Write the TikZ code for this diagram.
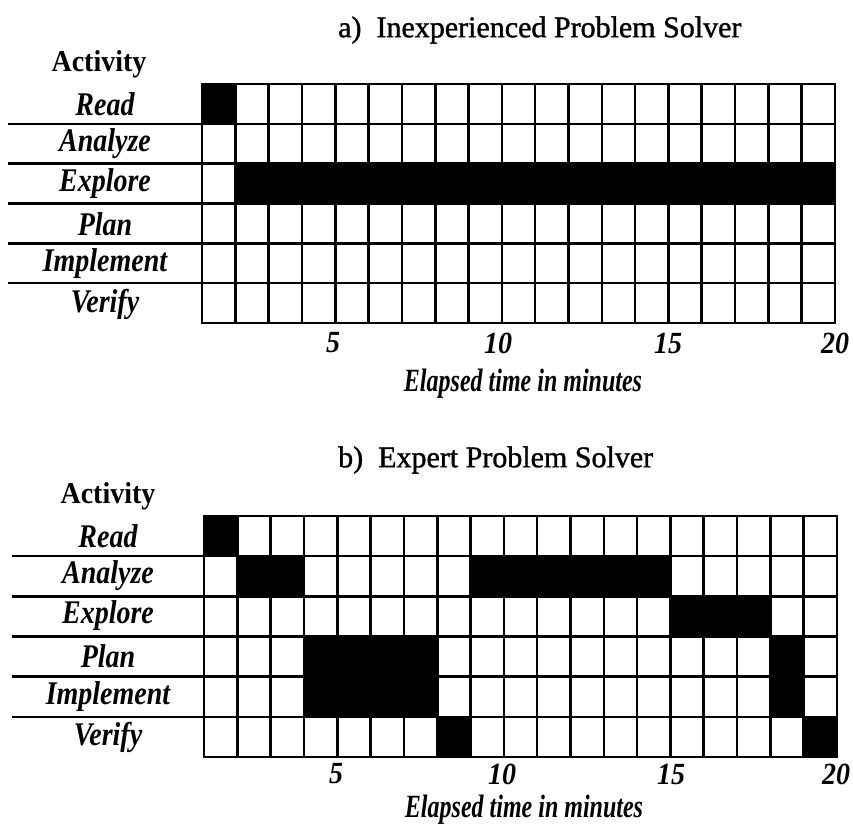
\documentclass[tikz,border=0pt]{standalone}
\usepackage{fontspec}
\setmainfont{Liberation Serif}
\newfontfamily\titlefont[FakeBold=1.2]{Liberation Serif}
\newcommand\vstretch[2]{\scalebox{1}[#1]{#2}}
\begin{document}
\begin{tikzpicture}[x=1pt,y=-1pt,
  gridline/.style={line width=2.6pt},
  sepline/.style={line width=2.6pt},
  cellfill/.style={fill=black},
  charttitle/.style={font=\fontsize{30}{32}\titlefont, anchor=west, inner sep=0pt},
  acttitle/.style={font=\fontsize{28}{30}\selectfont\bfseries, inner sep=0pt},
  actlabel/.style={font=\fontsize{28}{30}\selectfont\bfseries\itshape, inner sep=0pt},
  ticklabel/.style={font=\fontsize{28}{30}\selectfont\bfseries\itshape, inner sep=0pt},
  axislabel/.style={font=\fontsize{24}{26}\selectfont\bfseries\itshape, inner sep=0pt}]
\useasboundingbox (0,0) rectangle (853,829);
\fill[white] (0,0) rectangle (853,829);

% ---------------- chart a ----------------
\def\cw{33.316}
\node[charttitle] (atitle) at (338,30) {a)\ \ Inexperienced Problem Solver};
\node[acttitle] (aact) at (99,64) {\vstretch{1.08}{Activity}};
% filled cells
\foreach \c/\r/\n in {1/1/1, 2/3/18}
  \fill[cellfill] ({202+(\c-1)*\cw},{84+(\r-1)*39.833}) rectangle ++({\n*\cw},39.833);
% grid
\foreach \i in {1,...,18}
  \draw[gridline] ({202+\i*\cw},84) -- ({202+\i*\cw},323);
\foreach \j in {1,...,5}
  \draw[gridline] (202,{84+\j*39.833}) -- (835,{84+\j*39.833});
\draw[gridline] (202,84) rectangle (835,323);
% separators left
\foreach \j in {1,...,5}
  \draw[sepline] (8,{84+\j*39.833}) -- (202,{84+\j*39.833});
% row labels
\node[actlabel] (aread) at (105,104) {\vstretch{1.18}{Read}};
\node[actlabel] (aanalyze) at (105,144) {\vstretch{1.18}{Analyze}};
\node[actlabel] (aexplore) at (105,184) {\vstretch{1.18}{Explore}};
\node[actlabel] (aplan) at (105,224) {\vstretch{1.18}{Plan}};
\node[actlabel] (aimpl) at (105,264) {\vstretch{1.18}{Implement}};
\node[actlabel] (averify) at (105,304) {\vstretch{1.18}{Verify}};
% ticks
\node[ticklabel] (a5) at (333,343) {\vstretch{1.1}{5}};
\node[ticklabel] (a10) at (498,343) {\vstretch{1.1}{10}};
\node[ticklabel] (a15) at (668,343) {\vstretch{1.1}{15}};
\node[ticklabel] (a20) at (835,343) {\vstretch{1.1}{20}};
\node[axislabel] (aaxis) at (523,384) {\vstretch{1.35}{Elapsed time in minutes}};

% ---------------- chart b ----------------
\node[charttitle] (btitle) at (338,460) {b)\ \ Expert Problem Solver};
\node[acttitle] (bact) at (108,496) {\vstretch{1.08}{Activity}};
\foreach \c/\r/\n in {1/1/1, 2/2/2, 9/2/6, 15/3/3, 4/4/4, 18/4/1, 4/5/4, 18/5/1, 8/6/1, 19/6/1}
  \fill[cellfill] ({204+(\c-1)*\cw},{516+(\r-1)*40.167}) rectangle ++({\n*\cw},40.167);
\foreach \i in {1,...,18}
  \draw[gridline] ({204+\i*\cw},516) -- ({204+\i*\cw},757);
\foreach \j in {1,...,5}
  \draw[gridline] (204,{516+\j*40.167}) -- (837,{516+\j*40.167});
\draw[gridline] (204,516) rectangle (837,757);
\foreach \j in {1,...,5}
  \draw[sepline] (12,{516+\j*40.167}) -- (204,{516+\j*40.167});
\node[actlabel] (bread) at (108,536) {\vstretch{1.18}{Read}};
\node[actlabel] (banalyze) at (108,576) {\vstretch{1.18}{Analyze}};
\node[actlabel] (bexplore) at (108,616) {\vstretch{1.18}{Explore}};
\node[actlabel] (bplan) at (108,656) {\vstretch{1.18}{Plan}};
\node[actlabel] (bimpl) at (108,697) {\vstretch{1.18}{Implement}};
\node[actlabel] (bverify) at (108,737) {\vstretch{1.18}{Verify}};
\node[ticklabel] (b5) at (336,774) {\vstretch{1.1}{5}};
\node[ticklabel] (b10) at (502,774) {\vstretch{1.1}{10}};
\node[ticklabel] (b15) at (671,774) {\vstretch{1.1}{15}};
\node[ticklabel] (b20) at (836,774) {\vstretch{1.1}{20}};
\node[axislabel] (baxis) at (524,810) {\vstretch{1.35}{Elapsed time in minutes}};
\end{tikzpicture}
\end{document}
